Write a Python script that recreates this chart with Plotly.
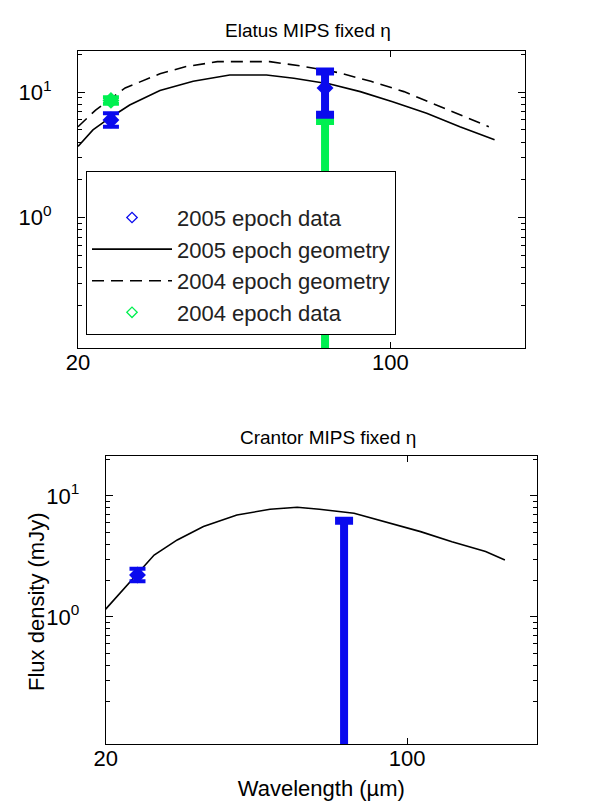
import plotly.graph_objects as go

# Elatus model curves (wavelength um, flux mJy)
elatus_wl_2005 = [20, 21.6, 23.5, 26.1, 30.5, 36.2, 43.7, 52.8, 60.8, 73.2, 85.6, 101.1, 120.5, 143, 171]
elatus_geom_2005 = [3.7, 5.0, 6.2, 7.9, 10.3, 12.2, 13.7, 13.7, 12.9, 11.6, 10.1, 8.4, 6.8, 5.3, 4.17]
elatus_wl_2004 = [20, 21.9, 25.5, 30.5, 34.9, 41, 53.7, 62.9, 76.5, 90.4, 107.2, 127, 145, 166]
elatus_geom_2004 = [5.3, 7.2, 10.8, 14.0, 16.0, 17.5, 17.5, 16.2, 14.3, 12.2, 10.1, 7.9, 6.5, 5.3]

# Elatus MIPS photometry (24 and 70 um)
mips_wl = [23.7, 71.4]
elatus_2005_flux = [6.0, 10.8]
elatus_2005_err_hi = [0.8, 3.8]
elatus_2005_err_lo = [0.7, 4.2]
elatus_2004_flux = [8.6, 1.5]
elatus_2004_err_hi = [0.5, 4.4]
elatus_2004_err_lo = [0.5, 2.0]

# Crantor model curve and photometry
crantor_wl = [20, 23.5, 25.9, 29.3, 33.7, 40.3, 48.1, 55.6, 62.6, 75.3, 89.1, 107.4, 127, 152, 168.5]
crantor_geom = [1.16, 2.2, 3.25, 4.33, 5.58, 6.96, 7.76, 8.07, 7.76, 7.19, 6.13, 5.07, 4.19, 3.47, 2.96]
crantor_flux = [2.22, 0.05]
crantor_err_hi = [0.28, 6.2]
crantor_err_lo = [0.25, 1.0]

x_ticks = [20, 100]
y_ticks = [1, 10]
y_ticktext = ["10<sup>0</sup>", "10<sup>1</sup>"]
y_minor = [m * d for d in (0.1, 1, 10) for m in range(2, 10)]

BLUE = "#0a0aee"
GREEN = "#00f050"
FONT = "Liberation Sans, Arial, sans-serif"

# error bar style per band: 24 um, 70 um
bar_thickness = [4, 8]
cap_halfwidth = [8, 9]

# page has an 8px body margin, so the figure is drawn 8px in from the window edge
W, H, OFF = 592, 804, 8


def px(x):
    return (x - OFF) / W


def py(y):
    return 1 - (y - OFF) / H


fig = go.Figure()

# legend-only sample for data
fig.add_trace(go.Scatter(x=[None], y=[None], mode="markers", name="2005 epoch data",
                         marker=dict(symbol="diamond-open", size=8, color=BLUE, line=dict(width=1.3)),
                         legendrank=1))
fig.add_trace(go.Scatter(x=elatus_wl_2005, y=elatus_geom_2005, mode="lines", name="2005 epoch geometry",
                         line=dict(color="black", width=1.6), legendrank=2))
fig.add_trace(go.Scatter(x=elatus_wl_2004, y=elatus_geom_2004, mode="lines", name="2004 epoch geometry",
                         line=dict(color="black", width=1.6, dash="12px,7px"), legendrank=3))
fig.add_trace(go.Scatter(x=[None], y=[None], mode="markers", name="2004 epoch data",
                         marker=dict(symbol="diamond-open", size=8, color=GREEN, line=dict(width=1.3)),
                         legendrank=4))


def add_data(y, hi, lo, color, xa, ya):
    for i in range(len(mips_wl)):
        fig.add_trace(go.Scatter(
            x=[mips_wl[i]], y=[y[i]], mode="markers", showlegend=False, xaxis=xa, yaxis=ya,
            marker=dict(symbol="diamond", size=13, color=color, line=dict(width=0)),
            error_y=dict(type="data", symmetric=False, array=[hi[i]], arrayminus=[lo[i]],
                         color=color, thickness=bar_thickness[i], width=cap_halfwidth[i]),
        ))


add_data(elatus_2004_flux, elatus_2004_err_hi, elatus_2004_err_lo, GREEN, "x", "y")
add_data(elatus_2005_flux, elatus_2005_err_hi, elatus_2005_err_lo, BLUE, "x", "y")

fig.add_trace(go.Scatter(x=crantor_wl, y=crantor_geom, mode="lines", showlegend=False,
                         line=dict(color="black", width=1.6), xaxis="x2", yaxis="y2"))
add_data(crantor_flux, crantor_err_hi, crantor_err_lo, BLUE, "x2", "y2")

ax_common = dict(type="log", showline=True, linecolor="black", linewidth=1, mirror="ticks",
                 ticks="inside", tickcolor="black", showgrid=False, zeroline=False, automargin=False,
                 tickfont=dict(size=22, color="black", family=FONT))
xax = dict(ax_common, range=[1.30103, 2.30103], tickmode="array", tickvals=x_ticks,
           ticktext=[str(v) for v in x_ticks], ticklen=6, ticklabelstandoff=-5)
yax = dict(ax_common, tickmode="array", tickvals=y_ticks, ticktext=y_ticktext, ticklen=7,
           ticklabelstandoff=21,
           minor=dict(ticks="inside", ticklen=4, tickcolor="black", tickmode="array",
                      tickvals=y_minor, showgrid=False))

fig.update_layout(
    template="none",
    width=W, height=H, margin=dict(l=0, r=0, t=0, b=0, autoexpand=False),
    paper_bgcolor="white", plot_bgcolor="white",
    font=dict(family=FONT, color="black"),
    xaxis=dict(xax, domain=[px(78), px(525)], anchor="y"),
    yaxis=dict(yax, domain=[py(348), py(50.5)], range=[-1.039, 1.332], anchor="x"),
    xaxis2=dict(xax, domain=[px(105.7), px(537)], anchor="y2",
                title=dict(text="Wavelength (µm)", font=dict(size=22), standoff=10)),
    yaxis2=dict(yax, domain=[py(744), py(456)], range=[-1.05, 1.33], anchor="x2"),
    legend=dict(x=px(86), y=py(171), xanchor="left", yanchor="top",
                bgcolor="white", bordercolor="black", borderwidth=1,
                font=dict(size=22, family=FONT, color="#222"), itemwidth=80,
                title=dict(text=" ", font=dict(size=19))),
    annotations=[
        dict(text="Elatus MIPS fixed η", x=px(308), y=py(31), xref="paper", yref="paper",
             showarrow=False, font=dict(size=19), xanchor="center", yanchor="middle"),
        dict(text="Crantor MIPS fixed η", x=px(328), y=py(437), xref="paper", yref="paper",
             showarrow=False, font=dict(size=19), xanchor="center", yanchor="middle"),
        dict(text="Flux density (mJy)", x=px(36), y=py(602), xref="paper", yref="paper",
             showarrow=False, font=dict(size=22), textangle=-90,
             xanchor="center", yanchor="middle"),
    ],
)

fig.write_html("out.html")
